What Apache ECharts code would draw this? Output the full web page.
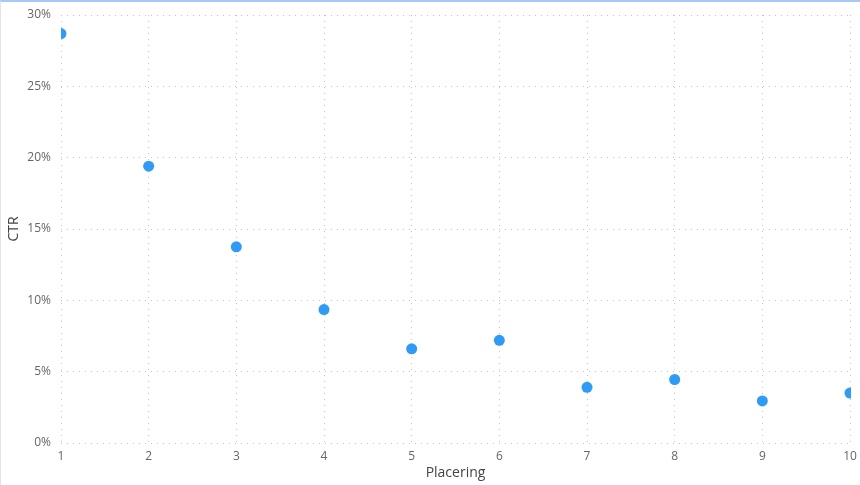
<!DOCTYPE html>
<html>
<head>
<meta charset="utf-8">
<script src="https://cdn.jsdelivr.net/npm/echarts@6/dist/echarts.min.js"></script>
<style>
	html, body { margin: 0; padding: 0; background: #fff; }
	#main { width: 859px; height: 483px; border-top: 2px solid #a9c8f5; border-left: 1px solid #e3e3e3; }
</style>
</head>
<body>
<div id="main"></div>
<script type="text/javascript">
	// 数据
	var placering = [1, 2, 3, 4, 5, 6, 7, 8, 9, 10];
	var ctr = [28.7, 19.4, 13.75, 9.35, 6.6, 7.2, 3.9, 4.45, 2.95, 3.5];
	var yTicks = [0, 5, 10, 15, 20, 25, 30];

	var chart = echarts.init(document.getElementById('main'), null, {
		renderer: 'canvas'
	});

	var points = [];
	for (var i = 0; i < placering.length; i++) {
		points.push([placering[i], ctr[i]]);
	}

	var font = '"Open Sans", "DejaVu Sans", sans-serif';

	chart.setOption({
		animation: false,
		grid: {
			left: 60,
			right: 10,
			top: 13,
			bottom: 42,
			containLabel: false,
			outerBoundsMode: 'none'
		},
		// 图区两侧把圆点裁掉一半
		graphic: [
			{ type: 'rect', left: 52, top: 13, z: 100, shape: { width: 8, height: 428 }, style: { fill: '#fff' } },
			{ type: 'rect', left: 850, top: 13, z: 100, shape: { width: 9, height: 428 }, style: { fill: '#fff' } }
		],
		xAxis: {
			type: 'value',
			min: 1,
			max: 10,
			interval: 1,
			name: 'Placering',
			nameLocation: 'middle',
			nameGap: 23,
			nameMoveOverlap: false,
			nameTextStyle: { color: '#444', fontSize: 14, fontFamily: font },
			axisLine: { show: false },
			axisTick: { show: false },
			axisLabel: { color: '#666', fontSize: 12, fontFamily: font, margin: 8 },
			splitLine: { show: true, lineStyle: { color: '#c4c4c4', type: [1, 5], width: 1 } }
		},
		yAxis: {
			type: 'value',
			min: yTicks[0],
			max: yTicks[yTicks.length - 1],
			interval: 5,
			name: 'CTR',
			nameLocation: 'middle',
			nameGap: 40,
			nameMoveOverlap: false,
			nameTextStyle: { color: '#444', fontSize: 14, fontFamily: font },
			axisLine: { show: false },
			axisTick: { show: false },
			axisLabel: {
				color: '#666',
				fontSize: 12,
				fontFamily: font,
				margin: 10,
				formatter: function (v) { return v + '%'; }
			},
			splitLine: { show: true, lineStyle: { color: '#c4c4c4', type: [1, 5], width: 1 } }
		},
		series: [{
			type: 'scatter',
			data: points,
			symbolSize: 11,
			clip: true,
			itemStyle: { color: '#2f9bf5', opacity: 1 }
		}]
	});
</script>
</body>
</html>
